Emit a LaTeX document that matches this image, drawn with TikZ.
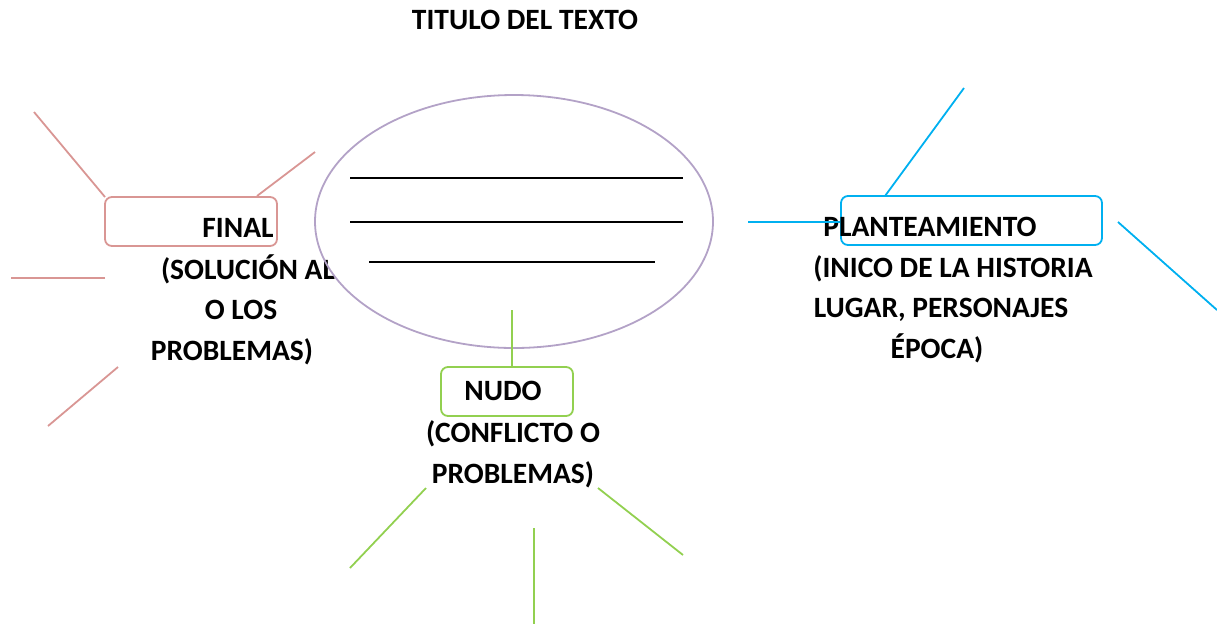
\documentclass[tikz,border=0pt]{standalone}
\usepackage{fontspec}
\setmainfont{Carlito}
\usetikzlibrary{shapes.geometric}
\definecolor{redl}{RGB}{217,150,148}
\definecolor{purp}{RGB}{179,162,199}
\definecolor{bluel}{RGB}{0,176,240}
\definecolor{greenl}{RGB}{146,208,80}
\begin{document}
\begin{tikzpicture}[x=1pt,y=-1pt,
  lbl/.style={font=\bfseries\fontsize{29.5}{36}\selectfont, anchor=base, inner sep=0pt},
  box/.style={draw, rounded corners=7pt, line width=1.8pt, inner sep=0pt},
  spoke/.style={line width=1.8pt},
  rule/.style={line width=2.2pt, black}]
\useasboundingbox (0,0) rectangle (1217,625);
% title
\node[lbl] (title) at (525,29) {TITULO DEL TEXTO};
% boxes
\node[box, draw=redl, minimum width=172, minimum height=49] (finalbox) at (191,221.5) {};
\node[box, draw=bluel, minimum width=261, minimum height=49] (planbox) at (971.5,220.5) {};
\node[box, draw=greenl, minimum width=132, minimum height=49] (nudobox) at (507,391.5) {};
% texts
\node[lbl] (f1) at (238,237) {FINAL};
\node[lbl] (f2) at (248,279) {(SOLUCIÓN AL};
\node[lbl] (f3) at (241,319) {O LOS};
\node[lbl] (f4) at (232,360) {PROBLEMAS)};
\node[lbl] (p1) at (930,236) {PLANTEAMIENTO};
\node[lbl] (p2) at (953,277) {(INICO DE LA HISTORIA};
\node[lbl] (p3) at (941,317) {LUGAR, PERSONAJES};
\node[lbl] (p4) at (937,358) {ÉPOCA)};
\node[lbl] (n1) at (503,400) {NUDO};
\node[lbl] (n2) at (513,442) {(CONFLICTO O};
\node[lbl] (n3) at (513,483) {PROBLEMAS)};
% ellipse
\node[draw=purp, ellipse, minimum width=398, minimum height=253, inner sep=0pt, line width=1.8pt] (ell) at (514,221.5) {};
\draw[rule] (350,178) -- (683,178);
\draw[rule] (350,222) -- (683,222);
\draw[rule] (369,262) -- (655,262);
% coordinates
\coordinate (fa) at (34,112);
\coordinate (fa0) at (105,197);
\coordinate (fb0) at (257,196);
\coordinate (fb) at (315,152);
\coordinate (fc) at (11,278);
\coordinate (fc0) at (105,278);
\coordinate (fd0) at (118,367);
\coordinate (fd) at (48,426);
\coordinate (pa0) at (885,196);
\coordinate (pa) at (964,88);
\coordinate (pb) at (748,222);
\coordinate (pc0) at (1118,222);
\coordinate (pc) at (1217,310);
\coordinate (ne) at (512,310);
\coordinate (ne0) at (512,367);
\coordinate (na0) at (426,488);
\coordinate (na) at (350,568);
\coordinate (nb0) at (534,528);
\coordinate (nb) at (534,624);
\coordinate (nc0) at (598,488);
\coordinate (nc) at (683,555);
% spokes
\draw[spoke, redl] (fa0) -- (fa);
\draw[spoke, redl] (fb0) -- (fb);
\draw[spoke, redl] (fc0) -- (fc);
\draw[spoke, redl] (fd0) -- (fd);
\draw[spoke, bluel] (pa0) -- (pa);
\draw[spoke, bluel] (planbox.west |- pb) -- (pb);
\draw[spoke, bluel] (pc0) -- (pc);
\draw[spoke, greenl] (ne) -- (ne0);
\draw[spoke, greenl] (na0) -- (na);
\draw[spoke, greenl] (nb0) -- (nb);
\draw[spoke, greenl] (nc0) -- (nc);
\end{tikzpicture}
\end{document}
